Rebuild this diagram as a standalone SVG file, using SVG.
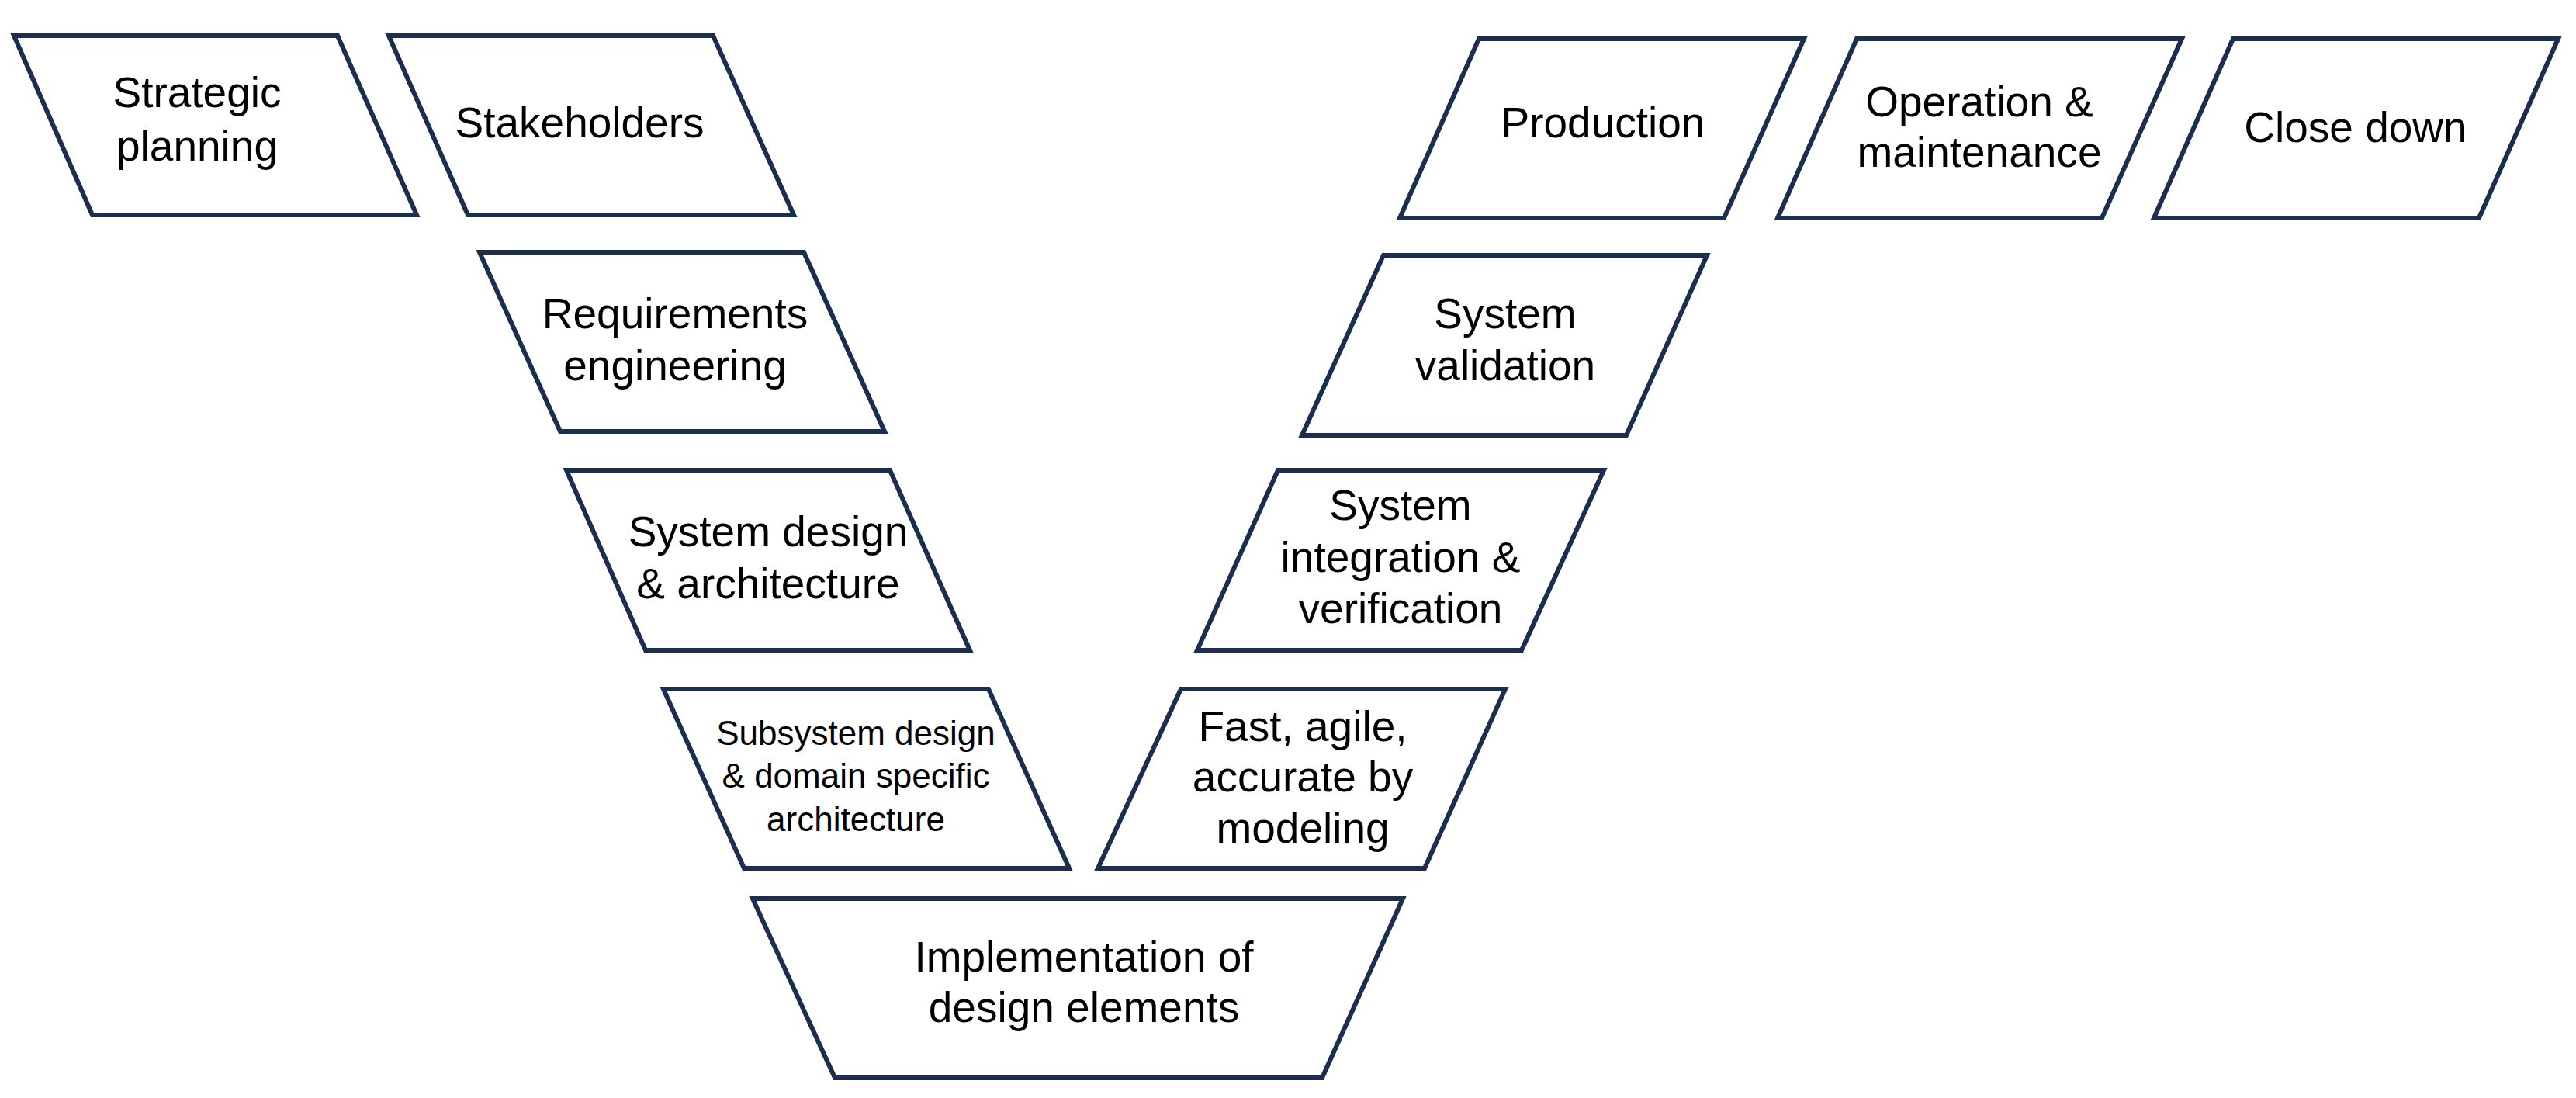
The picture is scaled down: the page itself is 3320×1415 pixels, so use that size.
<svg xmlns="http://www.w3.org/2000/svg" width="3320" height="1415" viewBox="0 0 3320 1415">
<style>
.box{fill:#ffffff;stroke:#1b2e4f;stroke-width:6;stroke-linejoin:miter}
.t{font-family:"Liberation Sans",Arial,sans-serif;font-size:55px;fill:#000000;text-anchor:middle}
.s{font-size:44px}
</style>
<rect width="3320" height="1415" fill="#ffffff"/>
<g id="connectors"></g>
<g id="strategic-planning">
<polygon class="box" points="18,46 435,46 537,277 119,277"/>
<text class="t" x="254" y="138">Strategic</text>
<text class="t" x="254" y="207">planning</text>
</g>
<g id="stakeholders">
<polygon class="box" points="501,46 919,46 1023,277 603,277"/>
<text class="t" x="747" y="177">Stakeholders</text>
</g>
<g id="requirements-engineering">
<polygon class="box" points="618,325 1036,325 1140,556 722,556"/>
<text class="t" x="870" y="423">Requirements</text>
<text class="t" x="870" y="490">engineering</text>
</g>
<g id="system-design">
<polygon class="box" points="730,606 1147,606 1250,838 832,838"/>
<text class="t" x="990" y="704">System design</text>
<text class="t" x="990" y="771">&amp; architecture</text>
</g>
<g id="subsystem-design">
<polygon class="box" points="855,888 1274,888 1378,1119 959,1119"/>
<text class="t s" x="1103" y="960">Subsystem design</text>
<text class="t s" x="1103" y="1015">&amp; domain specific</text>
<text class="t s" x="1103" y="1071">architecture</text>
</g>
<g id="implementation">
<polygon class="box" points="970,1158 1808,1158 1704,1389 1076,1389"/>
<text class="t" x="1397" y="1252">Implementation of</text>
<text class="t" x="1397" y="1317">design elements</text>
</g>
<g id="fast-agile">
<polygon class="box" points="1522,888 1940,888 1836,1119 1415,1119"/>
<text class="t" x="1679" y="955">Fast, agile,</text>
<text class="t" x="1679" y="1020">accurate by</text>
<text class="t" x="1679" y="1086">modeling</text>
</g>
<g id="system-integration">
<polygon class="box" points="1647,606 2067,606 1961,838 1543,838"/>
<text class="t" x="1805" y="670">System</text>
<text class="t" x="1805" y="737">integration &amp;</text>
<text class="t" x="1805" y="803">verification</text>
</g>
<g id="system-validation">
<polygon class="box" points="1783,329 2200,329 2096,561 1678,561"/>
<text class="t" x="1940" y="423">System</text>
<text class="t" x="1940" y="490">validation</text>
</g>
<g id="production">
<polygon class="box" points="1906,50 2325,50 2222,281 1804,281"/>
<text class="t" x="2066" y="177">Production</text>
</g>
<g id="operation-maintenance">
<polygon class="box" points="2393,50 2812,50 2709,281 2291,281"/>
<text class="t" x="2551" y="150">Operation &amp;</text>
<text class="t" x="2551" y="215">maintenance</text>
</g>
<g id="close-down">
<polygon class="box" points="2878,50 3297,50 3195,281 2776,281"/>
<text class="t" x="3036" y="183">Close down</text>
</g>
</svg>
